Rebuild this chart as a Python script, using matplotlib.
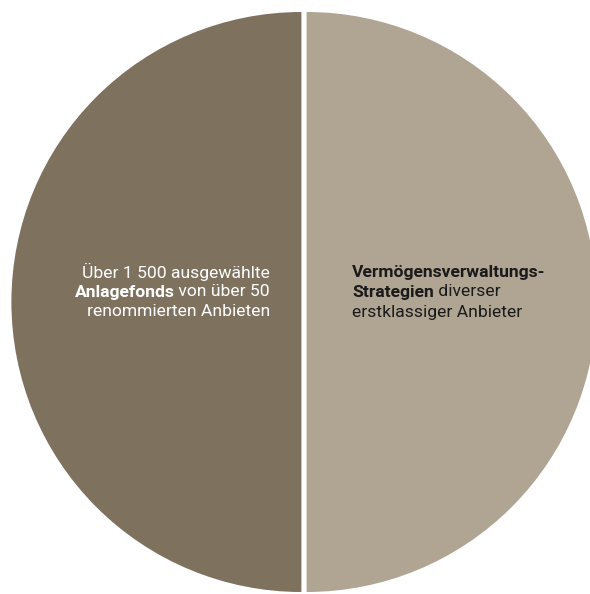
import matplotlib
matplotlib.use("Agg")
import matplotlib.pyplot as plt

plt.rcParams['font.family'] = ['Roboto', 'DejaVu Sans']

shares = [50, 50]
colors = ['#7e715e', '#b0a493']
left_lines = [[("Über 1 500 ausgewählte", "normal")],
              [("Anlagefonds", "bold"), (" von über 50", "normal")],
              [("renommierten Anbieten", "normal")]]
right_lines = [[("Vermögensverwaltungs-", "bold")],
               [("Strategien", "bold"), (" diverser", "normal")],
               [("erstklassiger Anbieter", "normal")]]

W, H = 590, 594
fig = plt.figure(figsize=(W / 100, H / 100), dpi=100)
ax = fig.add_axes([0, 0, 1, 1])

r = 290
ax.pie(shares, colors=colors, startangle=90, counterclock=True,
       center=(304, H - 302), radius=r, explode=[2.6, 2.6],
       wedgeprops=dict(linewidth=0))
ax.set_xlim(0, W)
ax.set_ylim(0, H)
ax.set_aspect('auto')
ax.axis('off')

fig.canvas.draw()
renderer = fig.canvas.get_renderer()
FS = 12.6


def draw_line(segments, x, y, align, color):
    # place segments one after another, measuring each in pixels
    widths = []
    for txt, weight in segments:
        t = ax.text(0, 0, txt, fontsize=FS, fontweight=weight)
        widths.append(t.get_window_extent(renderer).width)
        t.remove()
    total = sum(widths)
    start = x - total if align == 'right' else x
    for (txt, weight), w in zip(segments, widths):
        ax.text(start, y, txt, fontsize=FS, fontweight=weight, color=color,
                ha='left', va='center')
        start += w


for i, line in enumerate(left_lines):
    draw_line(line, 270, H - (272 + 20 * i), 'right', 'white')
for i, line in enumerate(right_lines):
    draw_line(line, 352, H - (272 + 20 * i), 'left', '#1a1a1a')

fig.savefig('out.png', dpi=100)
